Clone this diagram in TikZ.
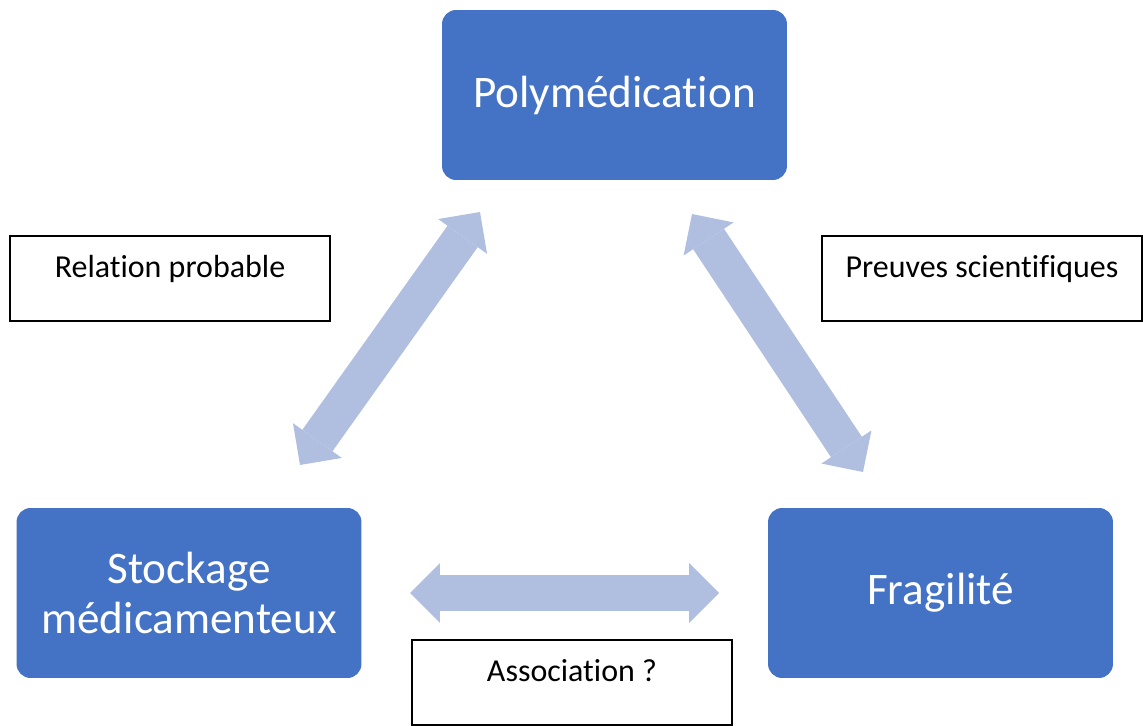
\documentclass[tikz,border=0pt]{standalone}
\usepackage{fontspec}
\setmainfont{Carlito}[Ligatures=NoCommon]
\usetikzlibrary{arrows.meta,positioning}
\definecolor{boxblue}{RGB}{68,114,196}
\definecolor{arrowblue}{RGB}{176,190,224}
\tikzset
{
    concept/.style = {rectangle, rounded corners=0.28cm, fill=boxblue, text=white, align=center, minimum width=6.9cm, minimum height=3.4cm, font=\fontsize{25.7}{28.5}\selectfont},
    note/.style    = {rectangle, draw=black, line width=1pt, fill=white, inner sep=0pt, minimum width=6.4cm, text height=0.82cm, text depth=0.88cm, font=\fontsize{18.2}{21}\selectfont},
    link/.style    = {draw=arrowblue, line width=0.74cm, {Triangle[width=1.2cm,length=0.6cm,line width=0pt]}-{Triangle[width=1.2cm,length=0.6cm,line width=0pt]}}
}

\begin{document}
\begin{tikzpicture}[x=0.02cm, y=-0.02cm]
	\useasboundingbox (0,0) rectangle (1143,726);
	\node (poly)		[concept] 	at (614.5,95)   	{Polymédication};
\node (stock)		[concept] 	at (189,593)    	{Stockage\\médicamenteux};
\node (frag)		[concept] 	at (940.5,593)  	{Fragilité};

\node (relation)	[note] 		at (170,278.5)  	{Relation probable};
\node (preuves)		[note] 		at (982,278.5)  	{Preuves scientifiques};
\node (assoc)		[note] 		at (572,682.5)  	{Association ?};

% arrow ends
\coordinate (ls) at (300,465);
\coordinate (lp) at (480,212);
\coordinate (rp) at (692,214);
\coordinate (rf) at (863,472);
\coordinate (bs) at (410,593);
\coordinate (bf) at (719,593);

\path
(ls) 		edge[link] 		(lp)
(rp) 		edge[link] 		(rf)
(bs) 		edge[link] 		(bf);
	\end{tikzpicture}
\end{document}
